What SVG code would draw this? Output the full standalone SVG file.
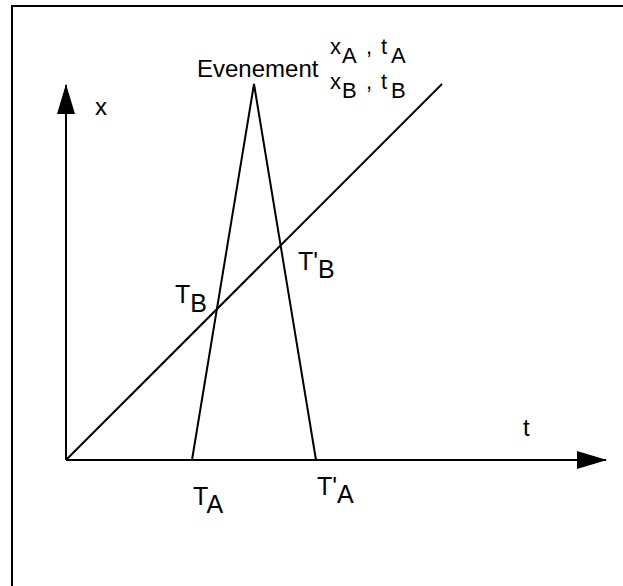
<svg xmlns="http://www.w3.org/2000/svg" width="623" height="586" viewBox="0 0 623 586">
<style>
.ln{stroke:#000;stroke-width:2;fill:none}
.tx{font-family:"Liberation Sans",Arial,sans-serif;font-size:24px;fill:#000}
.sm{font-size:22px}
.lg{font-size:25px}
</style>
<defs>
<marker id="arr" markerUnits="userSpaceOnUse" markerWidth="30" markerHeight="20" refX="29" refY="10" orient="auto">
<path d="M0,1 L30,10 L0,19 Z" fill="#000"/>
</marker>
</defs>
<rect width="623" height="586" fill="#fff"/>
<rect x="12" y="6" width="660" height="640" fill="none" stroke="#000" stroke-width="2"/>
<g id="connectors">
<line class="ln" x1="66" y1="460" x2="66" y2="85" marker-end="url(#arr)"/>
<line class="ln" x1="66" y1="460" x2="606" y2="460" marker-end="url(#arr)"/>
<line class="ln" x1="66" y1="460" x2="442" y2="84" stroke-width="2.5"/>
<polyline class="ln" points="192,460 254,84 316,460"/>
</g>
<g id="label-x"><text class="tx" x="95" y="115">x</text></g>
<g id="label-t"><text class="tx" x="523" y="436">t</text></g>
<g id="label-evenement"><text class="tx" x="197" y="77">Evenement</text></g>
<g id="label-xA"><text class="tx sm" y="54"><tspan x="330">x</tspan><tspan x="342" dy="9">A</tspan><tspan x="366" dy="-9">,</tspan><tspan x="381">t</tspan><tspan x="391" dy="9">A</tspan></text></g>
<g id="label-xB"><text class="tx sm" y="89"><tspan x="330">x</tspan><tspan x="342" dy="9">B</tspan><tspan x="366" dy="-9">,</tspan><tspan x="381">t</tspan><tspan x="391" dy="9">B</tspan></text></g>
<g id="label-TB"><text class="tx lg" x="175" y="303">T<tspan dy="9">B</tspan></text></g>
<g id="label-TpB"><text class="tx lg" x="298" y="270">T'<tspan dy="8">B</tspan></text></g>
<g id="label-TA"><text class="tx lg" x="193" y="505">T<tspan dy="8">A</tspan></text></g>
<g id="label-TpA"><text class="tx lg" x="317" y="495">T'<tspan dy="8">A</tspan></text></g>
</svg>
